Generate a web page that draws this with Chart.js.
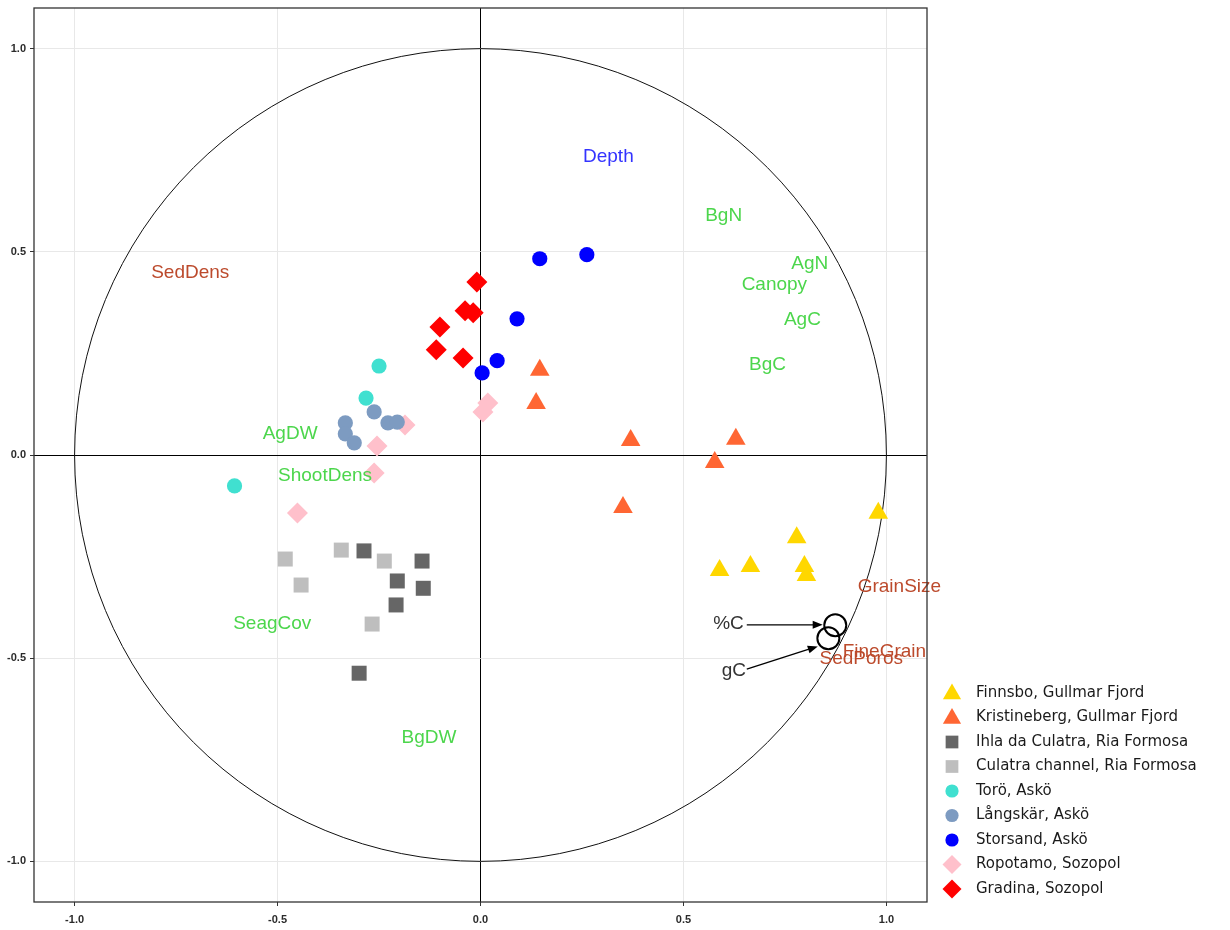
<!DOCTYPE html>
<html>
<head>
<meta charset="utf-8">
<script src="https://cdn.jsdelivr.net/npm/chart.js@4"></script>
<style>
  body { margin: 0; background: #fff; }
  canvas { display: block; }
</style>
</head>
<body>
<canvas id="pcaChart" width="1230" height="930"></canvas>
<script>
// axis ticks (both axes)
var tickValues = [-1, -0.5, 0, 0.5, 1];

// site scores, [PC1, PC2]
var finnsbo = [[0.980, -0.143], [0.779, -0.203], [0.589, -0.284], [0.665, -0.274], [0.798, -0.274], [0.803, -0.296]];
var kristineberg = [[0.370, 0.036], [0.629, 0.039], [0.577, -0.018], [0.351, -0.129], [0.146, 0.209], [0.137, 0.127]];
var ihla = [[-0.287, -0.236], [-0.144, -0.261], [-0.205, -0.310], [-0.141, -0.328], [-0.208, -0.369], [-0.299, -0.537]];
var culatraChannel = [[-0.343, -0.234], [-0.481, -0.256], [-0.237, -0.261], [-0.442, -0.320], [-0.267, -0.416]];
var toro = [[-0.250, 0.219], [-0.282, 0.140], [-0.606, -0.076]];
var langskar = [[-0.262, 0.106], [-0.333, 0.079], [-0.333, 0.052], [-0.311, 0.030], [-0.228, 0.079], [-0.205, 0.081]];
var storsand = [[0.262, 0.493], [0.146, 0.483], [0.090, 0.335], [0.041, 0.232], [0.004, 0.202]];
var ropotamo = [[0.018, 0.128], [0.006, 0.106], [-0.186, 0.074], [-0.255, 0.022], [-0.262, -0.044], [-0.451, -0.143]];
var gradina = [[-0.009, 0.426], [-0.038, 0.355], [-0.018, 0.350], [-0.100, 0.315], [-0.109, 0.259], [-0.043, 0.239]];

var siteNames = ["Finnsbo, Gullmar Fjord", "Kristineberg, Gullmar Fjord", "Ihla da Culatra, Ria Formosa",
  "Culatra channel, Ria Formosa", "Torö, Askö", "Långskär, Askö", "Storsand, Askö",
  "Ropotamo, Sozopol", "Gradina, Sozopol"];
var siteData = [finnsbo, kristineberg, ihla, culatraChannel, toro, langskar, storsand, ropotamo, gradina];

// variable positions
var varNames = ["Depth", "BgN", "AgN", "Canopy", "AgC", "BgC", "AgDW", "ShootDens", "SeagCov", "BgDW",
  "SedDens", "GrainSize", "FineGrain", "SedPoros"];
var varX = [0.315, 0.599, 0.811, 0.724, 0.793, 0.707, -0.469, -0.383, -0.513, -0.127, -0.715, 1.032, 0.995, 0.938];
var varY = [0.734, 0.589, 0.470, 0.419, 0.333, 0.222, 0.052, -0.052, -0.416, -0.697, 0.448, -0.325, -0.483, -0.502];
var varGroup = ["depth", "plant", "plant", "plant", "plant", "plant", "plant", "plant", "plant", "plant",
  "sediment", "sediment", "sediment", "sediment"];

// carbon variables, circled with arrows from their labels
var carbonNames = ["%C", "gC"];
var carbonX = [0.874, 0.857];
var carbonY = [-0.419, -0.451];
var carbonLabelX = [0.611, 0.624];
var carbonLabelY = [-0.416, -0.530];
var arrowStartX = [0.656, 0.656];
var arrowStartY = [-0.418, -0.527];
var arrowEndX = [0.843, 0.831];
var arrowEndY = [-0.418, -0.471];

var circleRadius = 1;

// styles
var siteColors = ["#FFD700", "#FF6633", "#666666", "#BEBEBE", "#40E0D0", "#7D9BC1", "#0000FF", "#FFC0CB", "#FF0000"];
var siteShapes = ["triangle", "triangle", "rect", "rect", "circle", "circle", "circle", "rectRot", "rectRot"];
var siteRadius = [11.3, 11.3, 10.6, 10.6, 7.6, 7.6, 7.6, 10.5, 10.5];
var legendRadius = [10.5, 10.5, 9, 9, 6.6, 6.6, 6.6, 9.5, 9.5];
var groupColors = { depth: "#3333FF", plant: "#4CD64C", sediment: "#BC4A2C" };
var labelFont = '19px "Liberation Sans", Arial, sans-serif';

var datasets = siteData.map(function (pts, i) {
  return {
    label: siteNames[i],
    data: pts.map(function (p) { return { x: p[0], y: p[1] }; }),
    pointStyle: siteShapes[i],
    pointRadius: siteRadius[i],
    pointHoverRadius: siteRadius[i],
    backgroundColor: siteColors[i],
    borderColor: siteColors[i],
    borderWidth: 0
  };
});
datasets.push({
  label: "carbon",
  data: carbonX.map(function (x, i) { return { x: x, y: carbonY[i] }; }),
  pointStyle: "circle",
  pointRadius: 11,
  backgroundColor: "rgba(0,0,0,0)",
  borderColor: "#000",
  borderWidth: 2
});

function drawMarker(ctx, style, r, x, y) {
  if (Chart.helpers && Chart.helpers.drawPoint) {
    Chart.helpers.drawPoint(ctx, { pointStyle: style, radius: r, rotation: 0, borderWidth: 0 }, x, y);
    return;
  }
  ctx.beginPath();
  ctx.arc(x, y, r, 0, Math.PI * 2);
  ctx.fill();
}

var overlay = {
  id: "overlay",
  beforeDatasetsDraw: function (chart) {
    var ctx = chart.ctx, xs = chart.scales.x, ys = chart.scales.y;
    var cx = xs.getPixelForValue(0), cy = ys.getPixelForValue(0);
    var rx = xs.getPixelForValue(circleRadius) - cx;
    var ry = cy - ys.getPixelForValue(circleRadius);
    ctx.save();
    ctx.strokeStyle = "#111";
    ctx.lineWidth = 1;
    ctx.beginPath();
    ctx.ellipse(cx, cy, rx, ry, 0, 0, Math.PI * 2);
    ctx.stroke();
    ctx.restore();
  },
  afterDatasetsDraw: function (chart) {
    var ctx = chart.ctx, xs = chart.scales.x, ys = chart.scales.y, area = chart.chartArea;
    ctx.save();
    ctx.font = labelFont;
    ctx.textAlign = "center";
    ctx.textBaseline = "middle";

    varNames.forEach(function (name, i) {
      ctx.fillStyle = groupColors[varGroup[i]];
      ctx.fillText(name, xs.getPixelForValue(varX[i]), ys.getPixelForValue(varY[i]));
    });

    // arrows to the carbon circles
    ctx.strokeStyle = "#000";
    ctx.lineWidth = 1.3;
    carbonNames.forEach(function (name, i) {
      ctx.fillStyle = "#333";
      ctx.fillText(name, xs.getPixelForValue(carbonLabelX[i]), ys.getPixelForValue(carbonLabelY[i]));
      var x0 = xs.getPixelForValue(arrowStartX[i]), y0 = ys.getPixelForValue(arrowStartY[i]);
      var x1 = xs.getPixelForValue(arrowEndX[i]), y1 = ys.getPixelForValue(arrowEndY[i]);
      var a = Math.atan2(y1 - y0, x1 - x0);
      ctx.beginPath();
      ctx.moveTo(x0, y0);
      ctx.lineTo(x1 - 6 * Math.cos(a), y1 - 6 * Math.sin(a));
      ctx.stroke();
      ctx.fillStyle = "#000";
      ctx.beginPath();
      ctx.moveTo(x1, y1);
      ctx.lineTo(x1 - 10 * Math.cos(a) + 4 * Math.sin(a), y1 - 10 * Math.sin(a) - 4 * Math.cos(a));
      ctx.lineTo(x1 - 10 * Math.cos(a) - 4 * Math.sin(a), y1 - 10 * Math.sin(a) + 4 * Math.cos(a));
      ctx.closePath();
      ctx.fill();
    });

    // panel border
    ctx.strokeStyle = "#333";
    ctx.lineWidth = 1.3;
    ctx.strokeRect(area.left, area.top, area.right - area.left, area.bottom - area.top);

    // legend
    ctx.font = '15px "DejaVu Sans", Verdana, sans-serif';
    ctx.textAlign = "left";
    siteNames.forEach(function (name, i) {
      var y = 693 + i * 24.5;
      ctx.fillStyle = siteColors[i];
      drawMarker(ctx, siteShapes[i], legendRadius[i], 952, y + (siteShapes[i] === "triangle" ? 1 : 0));
      ctx.fillStyle = "#1a1a1a";
      ctx.fillText(name, 976, y);
    });
    ctx.restore();
  }
};

function axisOptions(size) {
  return {
    type: "linear",
    min: -1.1,
    max: 1.1,
    afterBuildTicks: function (scale) {
      scale.ticks = tickValues.map(function (v) { return { value: v }; });
    },
    afterFit: function (scale) {
      if (scale.isHorizontal()) scale.height = size; else scale.width = size;
      // labels sit well inside the panel, no extra room needed at the ends
      scale.paddingTop = 0;
      scale.paddingBottom = 0;
      scale.paddingLeft = 0;
      scale.paddingRight = 0;
    },
    grid: {
      color: function (c) { return c.tick && c.tick.value === 0 ? "#000" : "#E8E8E8"; },
      lineWidth: 1,
      drawTicks: true,
      tickLength: 4,
      tickColor: "#333"
    },
    border: { display: false },
    ticks: {
      color: "#2b2b2b",
      font: { family: '"Liberation Sans", Arial, sans-serif', size: 11, weight: "bold" },
      callback: function (v) { return v.toFixed(1); }
    }
  };
}

var xAxis = axisOptions(28);
xAxis.ticks.padding = 7;
xAxis.ticks.maxRotation = 0;
var yAxis = axisOptions(34);
yAxis.ticks.padding = 4;

new Chart(document.getElementById("pcaChart").getContext("2d"), {
  type: "scatter",
  data: { datasets: datasets },
  options: {
    responsive: false,
    animation: false,
    layout: { padding: { top: 8, right: 303, left: 0, bottom: 0 }, autoPadding: false },
    plugins: { legend: { display: false }, tooltip: { enabled: false } },
    scales: { x: xAxis, y: yAxis }
  },
  plugins: [overlay]
});
</script>
</body>
</html>
